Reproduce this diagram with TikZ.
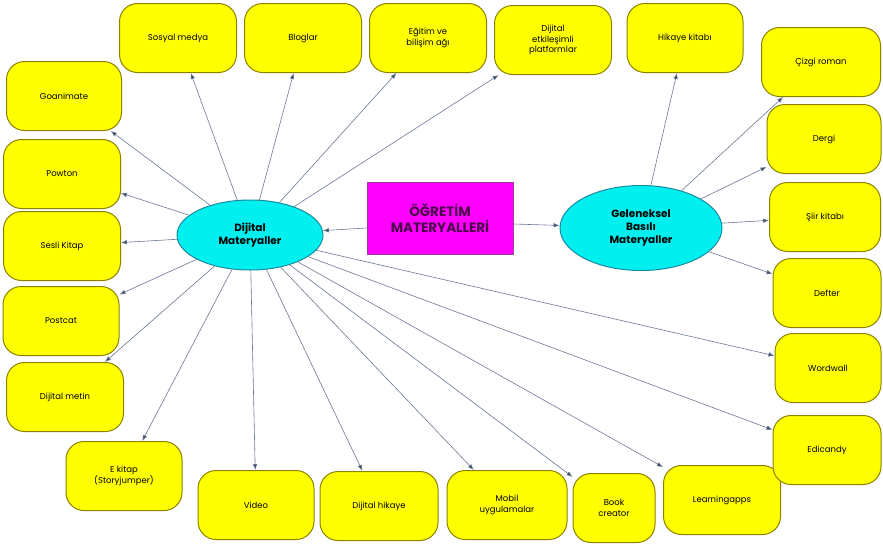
\documentclass[tikz,border=0pt]{standalone}
\usepackage{fontspec}
\setmainfont{Poppins}
\usetikzlibrary{shapes.geometric,arrows.meta}
\definecolor{sari}{HTML}{FFFF00}
\definecolor{sarikenar}{HTML}{8C8200}
\definecolor{turkuaz}{HTML}{00F0F0}
\definecolor{turkenar}{HTML}{1A8AA0}
\definecolor{mor}{HTML}{FF00FF}
\definecolor{morkenar}{HTML}{9A3A9A}
\definecolor{moryazi}{HTML}{4A0A4A}
\definecolor{okrenk}{HTML}{6A7894}
\definecolor{okucu}{HTML}{33405E}
\tikzset{
kutu/.style={draw=sarikenar, fill=sari, line width=1pt, rounded corners=18pt,
  minimum width=116pt, minimum height=69pt, align=center, inner sep=2pt,
  font=\fontsize{8.5}{10.5}\selectfont},
elips/.style={ellipse, draw=turkenar, fill=turkuaz, line width=1pt, inner sep=0pt,
  align=center, font=\fontsize{10.5}{13}\selectfont\bfseries},
ok/.style={draw=okrenk, line width=0.6pt, -{Latex[length=6pt,width=4.5pt,fill=okucu]}}
}
\begin{document}
\begin{tikzpicture}[x=1pt, y=-1pt, line join=round, line cap=round]
\useasboundingbox (0,0) rectangle (883,547);
%Merkez
\node[draw=morkenar, fill=mor, line width=1pt, minimum width=146pt, minimum height=72pt,
  align=center, text=moryazi, font=\fontsize{13.5}{15.5}\selectfont\bfseries, inner sep=1pt]
  (og) at (440,218) {ÖĞRETİM\\MATERYALLERİ};
\node[elips, minimum width=146pt, minimum height=70pt] (dm) at (250,235) {Dijital\\Materyaller};
\node[elips, minimum width=162pt, minimum height=85pt] (gb) at (641,228) {Geleneksel\\Basılı\\Materyaller};
\draw[ok] ([yshift=-10pt]og.west) -- (dm);
\draw[ok] ([yshift=-6pt]og.east) -- (gb);
%Dijital materyaller
\foreach \n/\x/\y/\w/\t in {
  sos/178/38/117/{Sosyal medya},
  blog/303/38/117/{Bloglar},
  egi/428/38/117/{Eğitim ve\\bilişim ağı},
  etk/553/40/117/{Dijital\\etkileşimli\\platformlar},
  goa/64/96/115/{Goanimate},
  pow/62/174/117/{Powton},
  ses/62/246/117/{Sesli Kitap},
  pos/61/321/116/{Postcat},
  met/65/397/117/{Dijital metin},
  ekit/124/476/116/{E kitap\\(Storyjumper)},
  vid/256/505/116/{Video},
  hik/379/506/118/{Dijital hikaye},
  mob/507/505/120/{Mobil\\uygulamalar},
  book/614/508/82/{Book\\creator},
  lea/722/500/117/{Learningapps},
  edi/827/450/108/{Edicandy},
  wor/828/368/106/{Wordwall}}
{
\node[kutu, minimum width=\w pt] (\n) at (\x,\y) {\t};
\draw[ok] (dm) -- (\n);
}
%Geleneksel basili materyaller
\foreach \n/\x/\y/\w/\t in {
  hkit/685/38/116/{Hikaye kitabı},
  ciz/821/62/119/{Çizgi roman},
  der/824/139/114/{Dergi},
  sii/825/217/111/{Şiir kitabı},
  def/827/293/108/{Defter}}
{
\node[kutu, minimum width=\w pt] (\n) at (\x,\y) {\t};
\draw[ok] (gb) -- (\n);
}
\end{tikzpicture}
\end{document}
